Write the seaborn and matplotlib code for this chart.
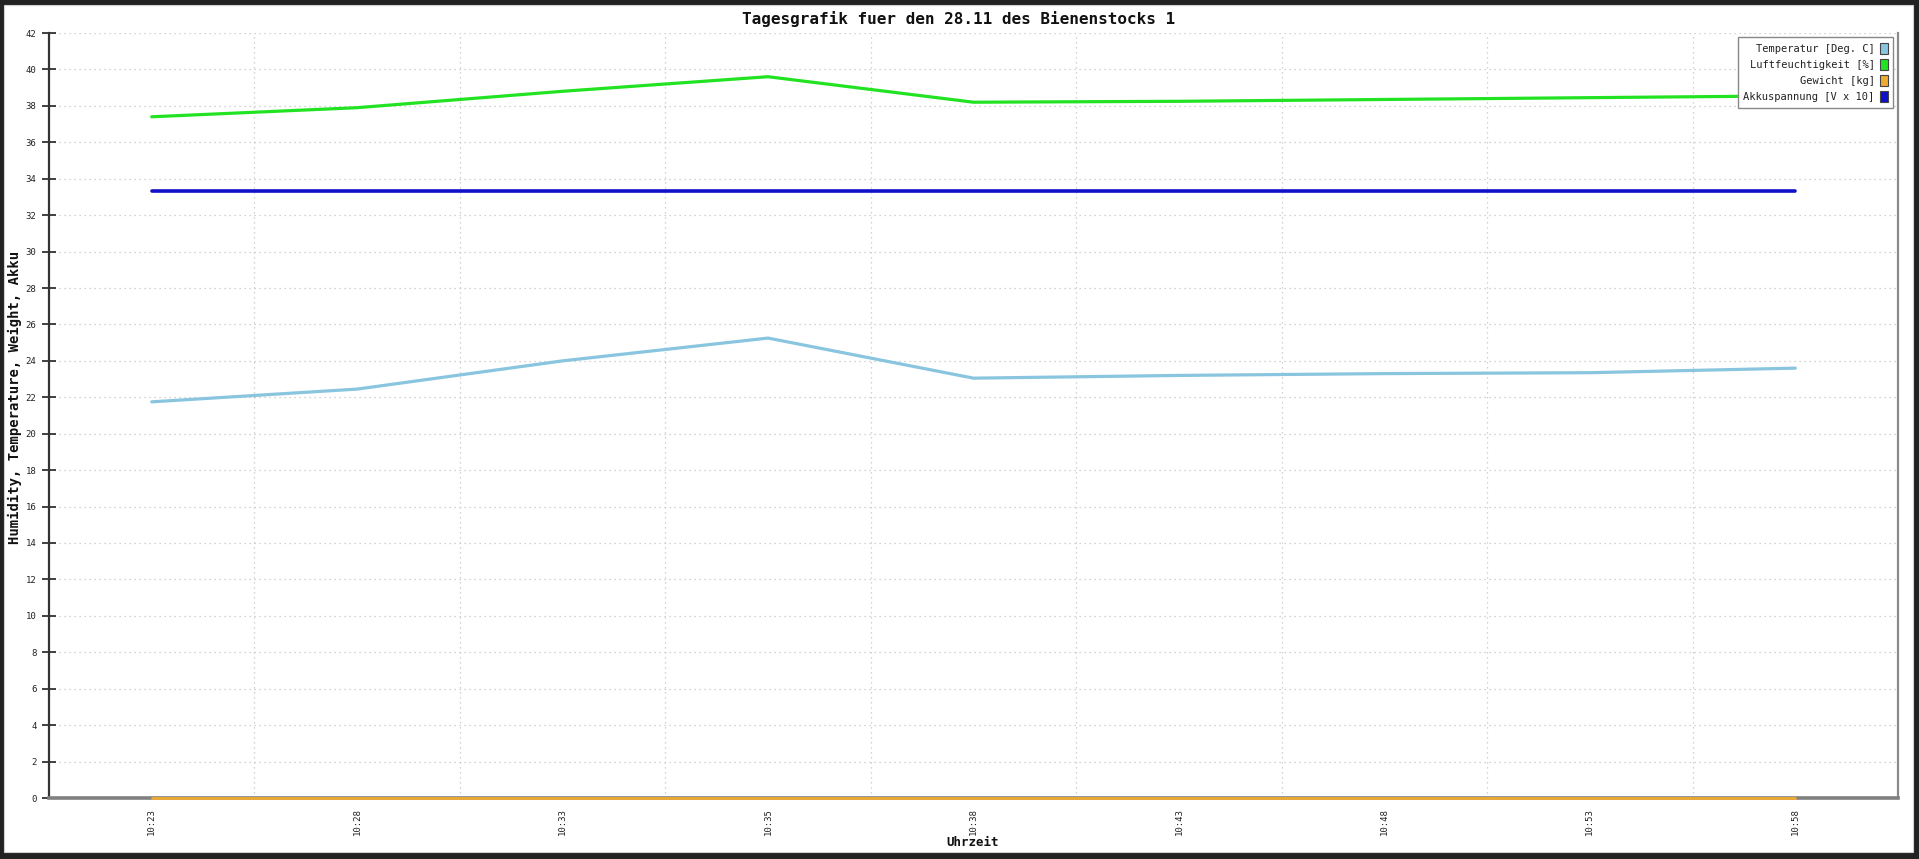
import matplotlib
matplotlib.use("Agg")
import matplotlib.pyplot as plt
from matplotlib.patches import Rectangle, Patch
from matplotlib.ticker import FixedLocator
import seaborn as sns
import pandas as pd

# ---- data ----
times = ["10:23", "10:28", "10:33", "10:35", "10:38", "10:43", "10:48", "10:53", "10:58"]
temperatur = [21.75, 22.45, 24.0, 25.25, 23.05, 23.2, 23.3, 23.35, 23.6]
luftfeuchtigkeit = [37.4, 37.9, 38.8, 39.6, 38.2, 38.25, 38.35, 38.45, 38.55]
gewicht = [0.0, 0.0, 0.0, 0.0, 0.0, 0.0, 0.0, 0.0, 0.0]
akku = [33.3, 33.3, 33.3, 33.3, 33.3, 33.3, 33.3, 33.3, 33.3]

series_names = ["Temperatur [Deg. C]", "Luftfeuchtigkeit [%]", "Gewicht [kg]", "Akkuspannung [V x 10]"]
series_values = [temperatur, luftfeuchtigkeit, gewicht, akku]
colors = ["#89c5de", "#22e322", "#eeaa33", "#1010c8"]
y_ticks = list(range(0, 43, 2))

title = "Tagesgrafik fuer den 28.11 des Bienenstocks 1"
ylabel = "Humidity, Temperature, Weight, Akku"
xlabel = "Uhrzeit"

# ---- figure ----
sns.set_style("white")
plt.rcParams["font.family"] = ["DejaVu Sans Mono", "DejaVu Sans"]

W, H = 1919, 859
fig = plt.figure(figsize=(W / 100, H / 100), dpi=100, facecolor="#222222")
fig.patches.append(Rectangle((4 / W, 1 - 852 / H), (1913 - 4) / W, (852 - 5) / H,
                             transform=fig.transFigure, facecolor="white",
                             edgecolor="#d0d0d0", lw=0.8, zorder=-10))

left, right, top, bottom = 49, 1898, 33, 798
ax = fig.add_axes([left / W, 1 - bottom / H, (right - left) / W, (bottom - top) / H])
ax.set_facecolor("white")

rows = []
for name, vals in zip(series_names, series_values):
    for i, v in enumerate(vals):
        rows.append({"idx": i, "value": v, "series": name})
df = pd.DataFrame(rows)

for name, col in zip(series_names, colors):
    sub = df[df["series"] == name]
    lw = 2.0 if name.startswith("Gewicht") else (2.6 if name.startswith("Akku") else 2.3)
    sns.lineplot(data=sub, x="idx", y="value", color=col, linewidth=lw, ax=ax,
                 legend=False, sort=False)
for ln in ax.lines:
    ln.set_clip_on(False)
    ln.set_zorder(3)

ax.set_xlim(-0.5, 8.5)
ax.set_ylim(0, 42)
ax.set_yticks(y_ticks)
ax.set_yticklabels([str(t) for t in y_ticks], fontsize=6.5, color="#222222")
ax.set_xticks(range(len(times)))
ax.set_xticklabels(times, rotation=90, fontsize=6.5, color="#222222")
ax.xaxis.set_minor_locator(FixedLocator([i + 0.5 for i in range(len(times) - 1)]))
ax.tick_params(axis="x", which="both", length=0, pad=7)
ax.tick_params(axis="y", which="major", direction="inout", length=10, width=1.3,
               color="#333333", pad=4, left=True)
ax.set_xlabel("")
ax.set_ylabel("")

ax.set_axisbelow(True)
ax.grid(axis="y", which="major", color="#c4c4c4", linestyle=(0, (1, 3)), linewidth=0.9)
ax.grid(axis="x", which="minor", color="#c4c4c4", linestyle=(0, (1, 3)), linewidth=0.9)
ax.grid(axis="x", which="major", visible=False)

ax.spines["top"].set_visible(False)
ax.spines["left"].set_color("#333333")
ax.spines["left"].set_linewidth(1.6)
ax.spines["bottom"].set_color("#808080")
ax.spines["bottom"].set_linewidth(2.6)
ax.spines["right"].set_color("#8a8a8a")
ax.spines["right"].set_linewidth(1.6)

handles = [Patch(facecolor=c, edgecolor="#444444", linewidth=0.8) for c in colors]
leg = ax.legend(handles, series_names, loc="upper right", bbox_to_anchor=(0.9975, 0.995),
                borderaxespad=0, markerfirst=False, fancybox=False, frameon=True,
                edgecolor="#888888", fontsize=7.5, handlelength=0.75, handleheight=1.3,
                handletextpad=0.5, labelspacing=0.45, borderpad=0.55, framealpha=1)
leg.get_frame().set_linewidth(1.0)
for t in leg.get_texts():
    t.set_color("#222222")

fig.text(0.4995, 1 - 19 / H, title, ha="center", va="center", fontsize=11.5,
         fontweight="bold", color="#111111")
fig.text(15 / W, 1 - 397 / H, ylabel, rotation=90, ha="center", va="center",
         fontsize=10, fontweight="bold", color="#111111")
fig.text(973 / W, 1 - 843 / H, xlabel, ha="center", va="center",
         fontsize=9, fontweight="bold", color="#111111")

fig.savefig("out.png", dpi=100, facecolor=fig.get_facecolor())
